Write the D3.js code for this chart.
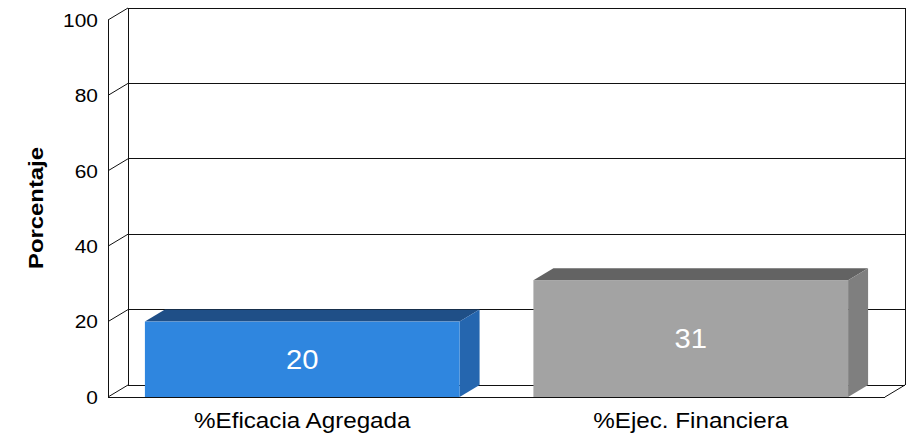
<!DOCTYPE html>
<html>
<head>
<meta charset="utf-8">
<script src="https://cdn.jsdelivr.net/npm/d3@7"></script>
<style>
  body { margin: 0; background: #fff; }
  text { font-family: Arial, "Liberation Sans", sans-serif; }
</style>
</head>
<body>
<script>
// chart data
var categories = ["%Eficacia Agregada", "%Ejec. Financiera"];
var values = [20, 31];
var yTicks = [0, 20, 40, 60, 80, 100];
var yTitle = "Porcentaje";

var frontColors = ["#2f86df", "#a3a3a3"];
var topColors = ["#1f4f87", "#636363"];
var sideColors = ["#2566af", "#7f7f7f"];

var width = 907, height = 435;
var dx = 20, dy = -12; // depth offset

var svg = d3.select("body").append("svg")
    .attr("width", width)
    .attr("height", height);

var y = d3.scaleLinear().domain([0, 100]).range([397, 20]);
var x = d3.scaleBand().domain(categories).range([108, 885]);
var barW = x.bandwidth() * 0.81;

var frame = svg.append("g").attr("fill", "none").attr("stroke", "#111").attr("stroke-width", 1)
    .attr("shape-rendering", "crispEdges");

// back wall gridlines
frame.selectAll(".grid")
    .data(yTicks.filter(d => d > 0))
    .enter().append("line")
    .attr("x1", 108 + dx).attr("x2", 885 + dx)
    .attr("y1", d => y(d) + dy).attr("y2", d => y(d) + dy);

// left wall diagonals
svg.append("g").attr("stroke", "#111").attr("stroke-width", 1)
    .selectAll("line")
    .data(yTicks)
    .enter().append("line")
    .attr("x1", 108).attr("x2", 108 + dx)
    .attr("y1", d => y(d)).attr("y2", d => y(d) + dy);

// verticals
frame.append("line").attr("x1", 108).attr("x2", 108).attr("y1", y(100)).attr("y2", y(0));
frame.append("line").attr("x1", 108 + dx).attr("x2", 108 + dx).attr("y1", y(100) + dy).attr("y2", y(0) + dy);
frame.append("line").attr("x1", 885 + dx).attr("x2", 885 + dx).attr("y1", y(100) + dy).attr("y2", y(0) + dy);

// floor
frame.append("line").attr("x1", 108).attr("x2", 885).attr("y1", y(0)).attr("y2", y(0));
frame.append("line").attr("x1", 108 + dx).attr("x2", 885 + dx).attr("y1", y(0) + dy).attr("y2", y(0) + dy);
svg.append("line").attr("stroke", "#111")
    .attr("x1", 885).attr("x2", 885 + dx).attr("y1", y(0)).attr("y2", y(0) + dy);

// bars
var bars = svg.selectAll(".bar")
    .data(values)
    .enter().append("g");

bars.each(function (v, i) {
    var g = d3.select(this);
    var x0 = x(categories[i]) + (x.bandwidth() - barW) / 2;
    var x1 = x0 + barW;
    var yt = y(v), yb = y(0);
    // top
    g.append("path")
        .attr("fill", topColors[i])
        .attr("d", "M" + x0 + "," + yt + "L" + (x0 + dx) + "," + (yt + dy) +
            "L" + (x1 + dx) + "," + (yt + dy) + "L" + x1 + "," + yt + "Z");
    // side
    g.append("path")
        .attr("fill", sideColors[i])
        .attr("d", "M" + x1 + "," + yt + "L" + (x1 + dx) + "," + (yt + dy) +
            "L" + (x1 + dx) + "," + (yb + dy) + "L" + x1 + "," + yb + "Z");
    // front
    g.append("rect")
        .attr("fill", frontColors[i])
        .attr("x", x0).attr("y", yt)
        .attr("width", barW).attr("height", yb - yt);
    g.append("text")
        .attr("transform", "translate(" + (x0 + barW / 2) + "," + ((yt + yb) / 2) + ") scale(1.08,1)")
        .attr("dy", "0.36em")
        .attr("text-anchor", "middle")
        .attr("fill", "#fff")
        .attr("font-size", "27px")
        .text(v);
});

// y tick labels
svg.append("g").selectAll("text")
    .data(yTicks)
    .enter().append("text")
    .attr("transform", d => "translate(98," + y(d) + ") scale(1.1,1)")
    .attr("dy", "0.36em")
    .attr("text-anchor", "end")
    .attr("font-size", "19px")
    .attr("fill", "#000")
    .text(d => d);

// category labels
svg.append("g").selectAll("text")
    .data(categories)
    .enter().append("text")
    .attr("transform", d => "translate(" + (x(d) + x.bandwidth() / 2) + ",428) scale(1.1,1)")
    .attr("text-anchor", "middle")
    .attr("font-size", "22px")
    .attr("fill", "#000")
    .text(d => d);

// y title
svg.append("text")
    .attr("transform", "translate(43,208) rotate(-90)")
    .attr("text-anchor", "middle")
    .attr("font-size", "20px")
    .attr("font-weight", "bold")
    .attr("textLength", 122)
    .attr("lengthAdjust", "spacingAndGlyphs")
    .text(yTitle);
</script>
</body>
</html>
